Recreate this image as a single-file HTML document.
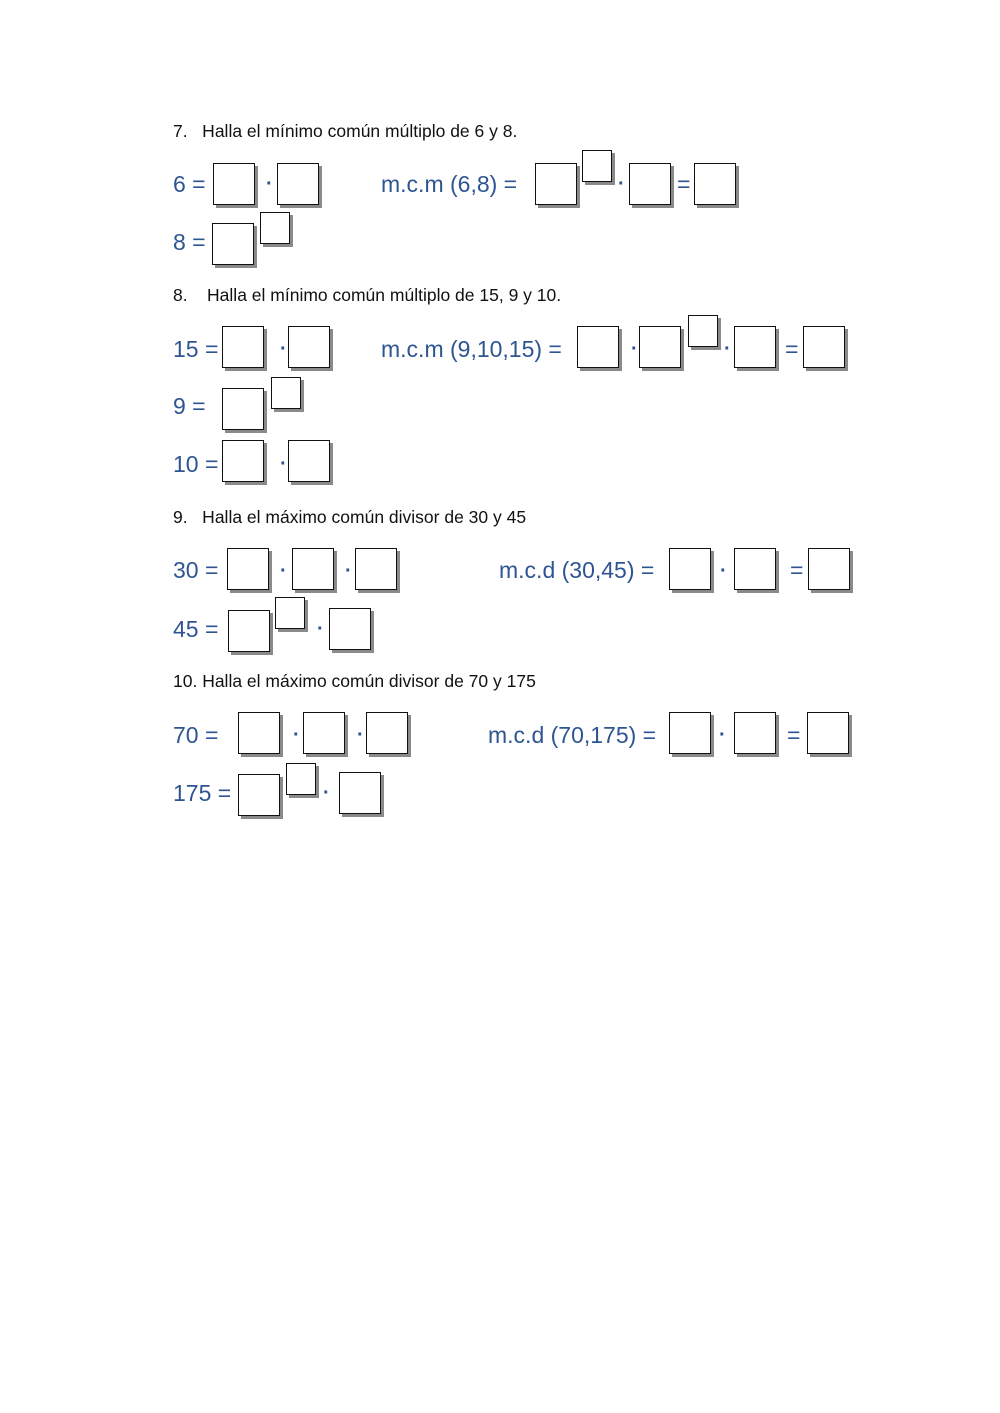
<!DOCTYPE html>
<html><head><meta charset="utf-8"><style>
body{margin:0;width:1000px;height:1413px;background:#fff;position:relative;overflow:hidden;font-family:"Liberation Sans",sans-serif}
.b,.s{position:absolute;border:1px solid #111;background:#fff;box-shadow:3px 3px 0 #8a8a8a;box-sizing:border-box}
.b{width:42px;height:42px}
.s{width:30px;height:32px}
.t{position:absolute;color:#2e5592;font-size:23px;line-height:26px;white-space:nowrap}
.l{position:absolute;color:#111;font-size:17.5px;line-height:20px;white-space:nowrap}
.d{position:absolute;color:#2e5592;font-size:20px;font-weight:bold;line-height:18px}
</style></head><body>
<div class="l" style="left:173px;top:121px">7.&nbsp;&nbsp;&nbsp;Halla el mínimo común múltiplo de 6 y 8.</div>
<div class="t" style="left:173px;top:171px">6 =</div>
<div class="b" style="left:213px;top:163px"></div>
<div class="d" style="left:266px;top:175px">·</div>
<div class="b" style="left:277px;top:163px"></div>
<div class="t" style="left:381px;top:171px">m.c.m (6,8) =</div>
<div class="b" style="left:535px;top:163px"></div>
<div class="s" style="left:582px;top:150px"></div>
<div class="d" style="left:618px;top:175px">·</div>
<div class="b" style="left:629px;top:163px"></div>
<div class="t" style="left:677px;top:171px">=</div>
<div class="b" style="left:694px;top:163px"></div>
<div class="t" style="left:173px;top:229px">8 =</div>
<div class="b" style="left:212px;top:223px"></div>
<div class="s" style="left:260px;top:212px"></div>

<div class="l" style="left:173px;top:285px">8.&nbsp;&nbsp;&nbsp;&nbsp;Halla el mínimo común múltiplo de 15, 9 y 10.</div>
<div class="t" style="left:173px;top:336px">15 =</div>
<div class="b" style="left:222px;top:326px"></div>
<div class="d" style="left:280px;top:340px">·</div>
<div class="b" style="left:288px;top:326px"></div>
<div class="t" style="left:381px;top:336px">m.c.m (9,10,15) =</div>
<div class="b" style="left:577px;top:326px"></div>
<div class="d" style="left:631px;top:340px">·</div>
<div class="b" style="left:639px;top:326px"></div>
<div class="s" style="left:688px;top:315px"></div>
<div class="d" style="left:724px;top:340px">·</div>
<div class="b" style="left:734px;top:326px"></div>
<div class="t" style="left:785px;top:336px">=</div>
<div class="b" style="left:803px;top:326px"></div>
<div class="t" style="left:173px;top:393px">9 =</div>
<div class="b" style="left:222px;top:388px"></div>
<div class="s" style="left:271px;top:377px"></div>
<div class="t" style="left:173px;top:451px">10 =</div>
<div class="b" style="left:222px;top:440px"></div>
<div class="d" style="left:280px;top:455px">·</div>
<div class="b" style="left:288px;top:440px"></div>

<div class="l" style="left:173px;top:507px">9.&nbsp;&nbsp;&nbsp;Halla el máximo común divisor de 30 y 45</div>
<div class="t" style="left:173px;top:557px">30 =</div>
<div class="b" style="left:227px;top:548px"></div>
<div class="d" style="left:280px;top:562px">·</div>
<div class="b" style="left:292px;top:548px"></div>
<div class="d" style="left:345px;top:562px">·</div>
<div class="b" style="left:355px;top:548px"></div>
<div class="t" style="left:499px;top:557px">m.c.d (30,45) =</div>
<div class="b" style="left:669px;top:548px"></div>
<div class="d" style="left:720px;top:562px">·</div>
<div class="b" style="left:734px;top:548px"></div>
<div class="t" style="left:790px;top:557px">=</div>
<div class="b" style="left:808px;top:548px"></div>
<div class="t" style="left:173px;top:616px">45 =</div>
<div class="b" style="left:228px;top:610px"></div>
<div class="s" style="left:275px;top:597px"></div>
<div class="d" style="left:317px;top:620px">·</div>
<div class="b" style="left:329px;top:608px"></div>

<div class="l" style="left:173px;top:671px">10.&nbsp;Halla el máximo común divisor de 70 y 175</div>
<div class="t" style="left:173px;top:722px">70 =</div>
<div class="b" style="left:238px;top:712px"></div>
<div class="d" style="left:293px;top:726px">·</div>
<div class="b" style="left:303px;top:712px"></div>
<div class="d" style="left:357px;top:726px">·</div>
<div class="b" style="left:366px;top:712px"></div>
<div class="t" style="left:488px;top:722px">m.c.d (70,175) =</div>
<div class="b" style="left:669px;top:712px"></div>
<div class="d" style="left:719px;top:726px">·</div>
<div class="b" style="left:734px;top:712px"></div>
<div class="t" style="left:787px;top:722px">=</div>
<div class="b" style="left:807px;top:712px"></div>
<div class="t" style="left:173px;top:780px">175 =</div>
<div class="b" style="left:238px;top:774px"></div>
<div class="s" style="left:286px;top:763px"></div>
<div class="d" style="left:323px;top:784px">·</div>
<div class="b" style="left:339px;top:772px"></div>
</body></html>
